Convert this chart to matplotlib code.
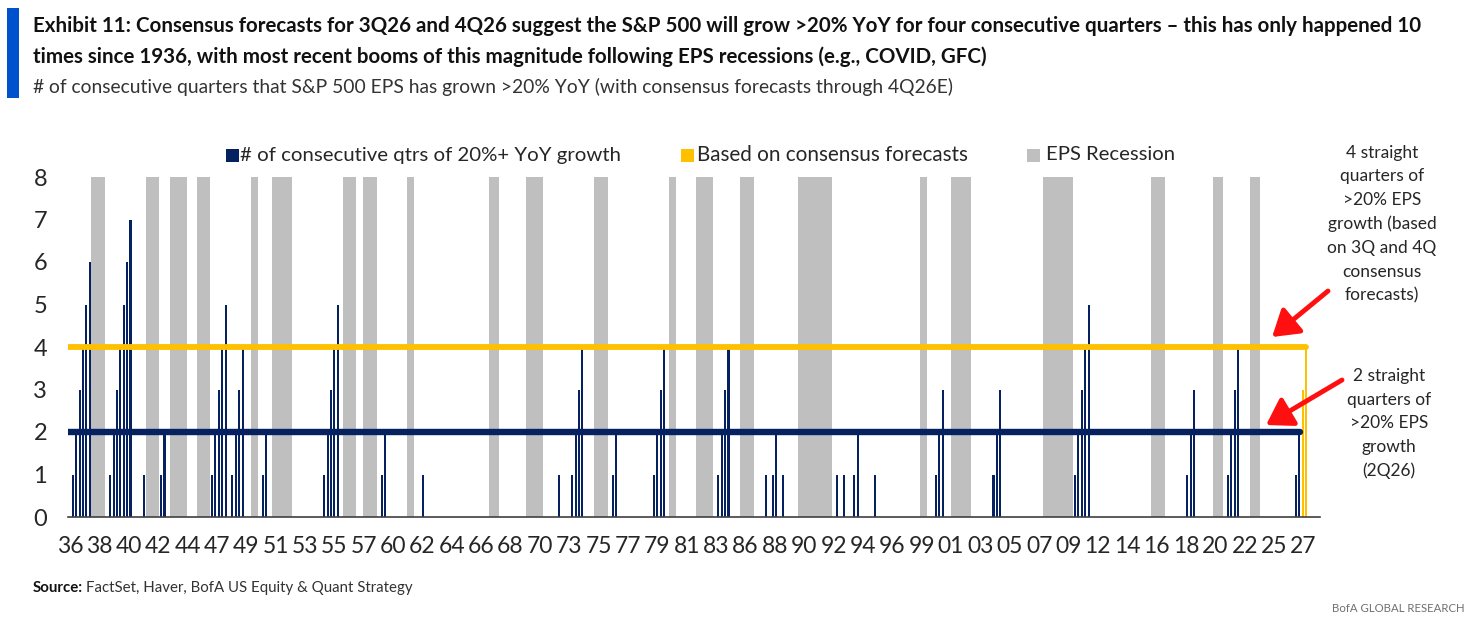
import matplotlib
matplotlib.use("Agg")
import matplotlib.pyplot as plt
from matplotlib.patches import Rectangle

# ---------------- data ----------------
# runs of consecutive quarters with >20% YoY EPS growth (start quarter, values)
run_starts = ["1Q36", "4Q38", "2Q41", "3Q42", "2Q46", "4Q47", "1Q50", "3Q54",
              "4Q58", "4Q61", "4Q71", "4Q72", "4Q75", "4Q78", "3Q83", "1Q87",
              "3Q87", "2Q88", "2Q92", "4Q92", "3Q93", "1Q95", "3Q99", "4Q03",
              "4Q09", "1Q18", "1Q21", "1Q26"]
run_values = [[1, 2, 3, 4, 5, 6], [1, 2, 3, 4, 5, 6, 7], [1], [1, 2],
              [1, 2, 3, 4, 5], [1, 2, 3, 4], [1, 2], [1, 2, 3, 4, 5],
              [1, 2], [1], [1], [1, 2, 3, 4], [1, 2], [1, 2, 3, 4],
              [1, 2, 3, 4], [1], [1, 2], [1], [1], [1], [1, 2], [1],
              [1, 2, 3], [1, 2, 3], [1, 2, 3, 4, 5], [1, 2, 3], [1, 2, 3, 4],
              [1, 2]]
# consensus-forecast quarters
forecast_start = "3Q26"
forecast_values = [3, 4]
# EPS recessions (first quarter, last quarter)
recession_start = ["3Q37", "3Q41", "2Q43", "2Q45", "2Q49", "4Q50", "1Q56", "3Q57",
                   "4Q60", "4Q66", "3Q69", "3Q74", "1Q80", "1Q82", "2Q85", "3Q89",
                   "3Q98", "4Q00", "3Q07", "3Q15", "1Q20", "4Q22"]
recession_end = ["2Q38", "2Q42", "2Q44", "1Q46", "3Q49", "1Q52", "4Q56", "2Q58",
                 "1Q61", "2Q67", "3Q70", "2Q75", "2Q80", "1Q83", "1Q86", "4Q91",
                 "4Q98", "1Q02", "3Q09", "2Q16", "3Q20", "2Q23"]
# reference levels
level_actual = 2          # 2 straight quarters through 2Q26
level_actual_end = "2Q26"
level_forecast = 4        # 4 straight quarters through 4Q26E
level_forecast_end = "4Q26"
x_tick_labels = ["36", "38", "40", "42", "44", "47", "49", "51", "53", "55", "57",
                 "60", "62", "64", "66", "68", "70", "73", "75", "77", "79", "81",
                 "83", "86", "88", "90", "92", "94", "96", "99", "01", "03", "05",
                 "07", "09", "12", "14", "16", "18", "20", "22", "25", "27"]
y_ticks = [0, 1, 2, 3, 4, 5, 6, 7, 8]

title_lines = ["Exhibit 11: Consensus forecasts for 3Q26 and 4Q26 suggest the S&P 500 will grow >20% YoY for four consecutive quarters \u2013 this has only happened 10",
               "times since 1936, with most recent booms of this magnitude following EPS recessions (e.g., COVID, GFC)"]
subtitle = "# of consecutive quarters that S&P 500 EPS has grown >20% YoY (with consensus forecasts through 4Q26E)"
legend_labels = ["# of consecutive qtrs of 20%+ YoY growth", "Based on consensus forecasts", "EPS Recession"]
note_4 = ["4 straight", "quarters of", ">20% EPS", "growth (based", "on 3Q and 4Q", "consensus", "forecasts)"]
note_2 = ["2 straight", "quarters of", ">20% EPS", "growth", "(2Q26)"]


def qidx(label):
    q = int(label[0])
    yy = int(label[2:])
    year = 1900 + yy if yy >= 30 else 2000 + yy
    return (year - 1936) * 4 + (q - 1)


# ---------------- style ----------------
NAVY = "#06215f"
GOLD = "#FFC000"
GRAY = "#BFBFBF"
BLUE = "#0052CC"
FONT = "Lato"
plt.rcParams["font.family"] = [FONT, "DejaVu Sans"]

W, H = 1477, 624
fig = plt.figure(figsize=(W / 100, H / 100), dpi=100)
renderer = fig.canvas.get_renderer()


def fx(px):
    return px / W


def fy(py):
    return 1 - py / H


ax = fig.add_axes([fx(68), fy(517), fx(1320) - fx(68), (517 - 177) / H])

# recession bands
for s, e in zip(recession_start, recession_end):
    ax.axvspan(qidx(s) - 0.5, qidx(e) + 0.5, color=GRAY, lw=0, zorder=0)

# actual growth bars
xs, vs = [], []
for s, vals in zip(run_starts, run_values):
    q0 = qidx(s)
    for i, v in enumerate(vals):
        xs.append(q0 + i)
        vs.append(v)
ax.bar(xs, vs, width=0.6, color=NAVY, lw=0, zorder=2)

# forecast bars
fq0 = qidx(forecast_start)
ax.bar([fq0 + i for i in range(len(forecast_values))], forecast_values,
       width=0.5, color=GOLD, lw=0, zorder=2)

xmin, xmax = -1.4, 367.1
ax.hlines(level_forecast, xmin, qidx(level_forecast_end) + 0.1, color=GOLD, lw=4.2, zorder=3,
          capstyle="round")
ax.hlines(level_actual, xmin, qidx(level_actual_end) + 0.3, color=NAVY, lw=4.6, zorder=3,
          capstyle="round")

ax.set_xlim(xmin, xmax)
ax.set_ylim(0, 8)
for sp in ["top", "right", "left"]:
    ax.spines[sp].set_visible(False)
ax.spines["bottom"].set_color("#404040")
ax.spines["bottom"].set_linewidth(1.2)
ax.spines["bottom"].set_zorder(4)

tick_pos = [-0.8 + k * 8.643 for k in range(len(x_tick_labels))]
ax.set_xticks(tick_pos)
ax.set_xticklabels(x_tick_labels, fontsize=16.5, color="#262626")
ax.set_yticks(y_ticks)
ax.set_yticklabels([str(v) for v in y_ticks], fontsize=17, color="#262626")
ax.tick_params(axis="x", length=0, pad=14)
ax.tick_params(axis="y", length=0, pad=15)


def fit_text(x_px, y_px, s, target_w, fs0, ha="left", **kw):
    t = fig.text(fx(x_px), fy(y_px), s, fontsize=fs0, va="center", ha=ha, **kw)
    w = t.get_window_extent(renderer).width
    t.set_fontsize(fs0 * target_w / w)
    return t


# title block
fig.add_artist(Rectangle((fx(7), fy(98)), fx(12), (98 - 8) / H, color=BLUE, lw=0,
                         transform=fig.transFigure))
t1 = fit_text(33, 26, title_lines[0], 1397, 15, fontweight="bold", color="#111111")
fig.text(fx(33), fy(57), title_lines[1], va="center", fontweight="bold", color="#111111",
         fontsize=t1.get_fontsize())
fit_text(33, 87, subtitle, 924, 14, color="#333333")

# legend
leg_x = [(226, 240, 382), (681, 697, 271), (1027, 1046, 129)]
for (sx, tx, tw), lab, col in zip(leg_x, legend_labels, [NAVY, GOLD, GRAY]):
    fig.add_artist(Rectangle((fx(sx), fy(162)), fx(13), 13 / H, color=col, lw=0,
                             transform=fig.transFigure))
    fit_text(tx, 155, lab, tw, 15, color="#262626")

# annotations
ref = fit_text(1382, 224.3, note_4[3], 108, 13, ha="center", color="#262626")
nfs = ref.get_fontsize()
ref.remove()
for i, line in enumerate(note_4):
    fig.text(fx(1382), fy(152.7 + i * 23.8), line, ha="center", va="center", fontsize=nfs,
             color="#262626")
for i, line in enumerate(note_2):
    fig.text(fx(1389), fy(375.7 + i * 23.8), line, ha="center", va="center", fontsize=nfs,
             color="#262626")

arrow_kw = dict(arrowstyle="-|>,head_length=0.55,head_width=0.35", color="#FF1010", lw=3.5,
                mutation_scale=28, shrinkA=0, shrinkB=0)
ax.annotate("", xy=((1272 - 72.7) / 3.3975, (517 - 337) / 42.5), xycoords="data",
            xytext=(1328, H - 291), textcoords="figure pixels", arrowprops=arrow_kw,
            annotation_clip=False, zorder=6)
ax.annotate("", xy=((1266 - 72.7) / 3.3975, (517 - 425) / 42.5), xycoords="data",
            xytext=(1342, H - 380), textcoords="figure pixels", arrowprops=arrow_kw,
            annotation_clip=False, zorder=6)

# source / footer
src_b = fig.text(fx(33), fy(588), "Source:", fontweight="bold", fontsize=11, va="center",
                 color="#111111")
bw = src_b.get_window_extent(renderer).x1
src_r = fig.text(bw / W + 3 / W, fy(588), "FactSet, Haver, BofA US Equity & Quant Strategy",
                 fontsize=11, va="center", color="#333333")
# scale the source line to the reference width
tot = src_r.get_window_extent(renderer).x1 - 33
scale = 377 / tot
src_b.set_fontsize(11 * scale)
bw = src_b.get_window_extent(renderer).x1
src_r.set_fontsize(11 * scale)
src_r.set_x(bw / W + 3 / W)
fit_text(1465, 608, "BofA GLOBAL RESEARCH", 133, 11.5, ha="right", color="#707070")

fig.savefig("out.png", dpi=100)
